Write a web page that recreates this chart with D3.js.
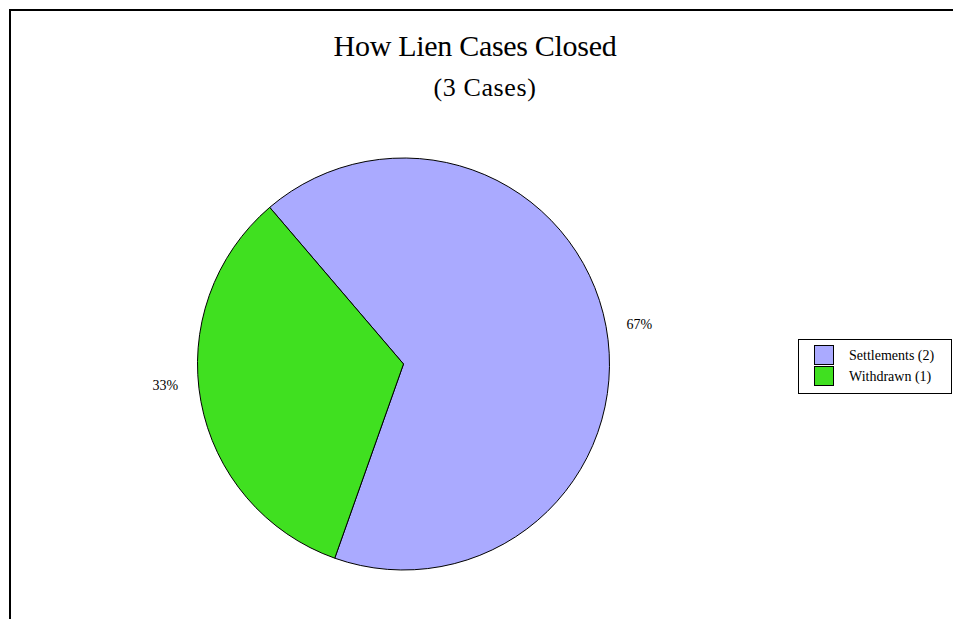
<!DOCTYPE html>
<html>
<head>
<meta charset="utf-8">
<script src="https://cdn.jsdelivr.net/npm/d3@7"></script>
<style>
  html, body { margin: 0; padding: 0; background: #fff; }
  svg { display: block; font-family: "Liberation Serif", "Times New Roman", serif; }
</style>
</head>
<body>
<svg id="chart" width="953" height="619"></svg>
<script>
// Closed lien cases by outcome
const categories = ["Settlements", "Withdrawn"];
const counts = [2, 1];
const colors = ["#aaaaff", "#40e020"];
const titleText = "How Lien Cases Closed";
const subtitleText = "(3 Cases)";

const svg = d3.select("#chart");
const W = 953, H = 619;

// outer frame (runs off the right and bottom edges)
svg.append("path")
  .attr("d", `M10,${H + 5} V10 H${W + 5}`)
  .attr("fill", "none")
  .attr("stroke", "#000")
  .attr("stroke-width", 2);

svg.append("text")
  .attr("x", 475).attr("y", 56)
  .attr("text-anchor", "middle")
  .attr("font-size", 30)
  .attr("letter-spacing", -0.3)
  .text(titleText);

svg.append("text")
  .attr("x", 485).attr("y", 96)
  .attr("text-anchor", "middle")
  .attr("font-size", 26)
  .attr("letter-spacing", 0.6)
  .text(subtitleText);

const total = d3.sum(counts);
const data = categories.map((c, i) => ({ name: c, value: counts[i], color: colors[i] }));

const cx = 403.5, cy = 364, r = 206;
const start = -40.5 * Math.PI / 180;
const pie = d3.pie().value(d => d.value).sort(null)
  .startAngle(start).endAngle(start + 2 * Math.PI);
const arcs = pie(data);
const arc = d3.arc().innerRadius(0).outerRadius(r);

const g = svg.append("g").attr("transform", `translate(${cx},${cy})`);
g.selectAll("path.slice")
  .data(arcs)
  .join("path")
  .attr("class", "slice")
  .attr("d", arc)
  .attr("fill", d => d.data.color)
  .attr("stroke", "#000")
  .attr("stroke-width", 1)
  .attr("stroke-linejoin", "round");

// percentage labels sit just outside the rim, nudged clockwise of the mid-angle
const labelR = r + 33;
function labelPos(d) {
  const mid = (d.startAngle + d.endAngle) / 2;
  const nudge = (Math.sin(mid) < 0 ? 5.5 : 1) * Math.PI / 180;
  const a = mid + nudge;
  return [labelR * Math.sin(a), -labelR * Math.cos(a)];
}
g.selectAll("text.pct")
  .data(arcs)
  .join("text")
  .attr("class", "pct")
  .attr("transform", d => `translate(${labelPos(d)})`)
  .attr("text-anchor", "middle")
  .attr("dy", "0.35em")
  .attr("font-size", 14)
  .text(d => Math.round(d.data.value / total * 100) + "%");

// legend
const lg = svg.append("g");
lg.append("rect")
  .attr("x", 798.5).attr("y", 339.5)
  .attr("width", 153).attr("height", 54)
  .attr("fill", "#fff").attr("stroke", "#000").attr("stroke-width", 1);

const items = lg.selectAll("g.item")
  .data(data)
  .join("g")
  .attr("class", "item")
  .attr("transform", (d, i) => `translate(814,${345 + i * 21})`);
items.append("rect")
  .attr("x", 0.5).attr("y", 0.5)
  .attr("width", 19).attr("height", 19)
  .attr("fill", d => d.color)
  .attr("stroke", "#000").attr("stroke-width", 1);
items.append("text")
  .attr("x", 35).attr("y", 15)
  .attr("font-size", 14)
  .text(d => `${d.name} (${d.value})`);
</script>
</body>
</html>
